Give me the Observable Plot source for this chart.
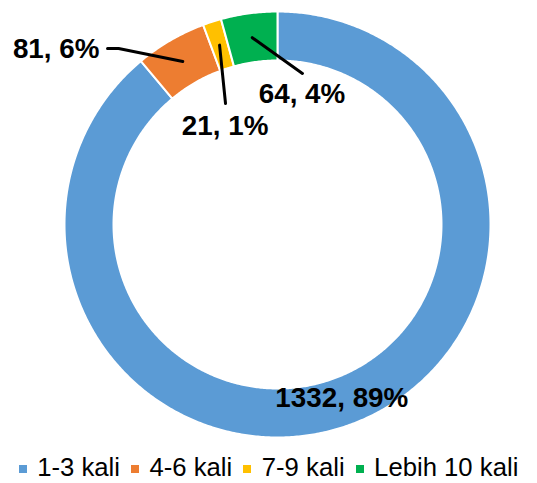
<!DOCTYPE html>
<html>
<head>
<meta charset="utf-8">
<script src="https://cdn.jsdelivr.net/npm/d3@7"></script>
<script src="https://cdn.jsdelivr.net/npm/@observablehq/plot@0.6"></script>
<style>
  html, body { margin: 0; padding: 0; background: #fff; }
  #chart svg { display: block; }
  .legend { display: flex; justify-content: center; align-items: center; margin-top: 7px;
    font-family: "Liberation Sans", Arial, sans-serif; font-size: 25.7px; line-height: 25px; color: #000; }
  .legend .item { display: flex; align-items: center; margin: 0 5.5px; }
  .legend .sw { width: 8px; height: 8px; margin-right: 10.5px; margin-top: 2px; }
</style>
</head>
<body>
<div id="chart"></div>
<script>
// ---- data ----
const categories = ["1-3 kali", "4-6 kali", "7-9 kali", "Lebih 10 kali"];
const counts = [1332, 81, 21, 64];
const percentLabels = ["89%", "6%", "1%", "4%"];
const colors = ["#5B9BD5", "#ED7D31", "#FFC000", "#00B050"];

// ---- layout (unit radius = outer ring radius) ----
const W = 537, H = 448, Rpx = 213, CX = 277, CY = 224;
const R = 1, r0 = 164 / 213;
// manual label placements (like Excel's dragged data labels), in unit coords; null = at centroid
const labelPlace = [null, {x: -0.836, y: 0.825, anchor: "end"}, {x: -0.246, y: 0.463, anchor: "middle"}, {x: 0.115, y: 0.614, anchor: "middle"}];
const leaderVia = [null, [{x: -0.746, y: 0.826}, {x: -0.798, y: 0.826}], [{x: -0.244, y: 0.568}], [{x: 0.117, y: 0.709}]];

const rows = categories.map((c, i) => ({cat: c, count: counts[i], label: `${counts[i]}, ${percentLabels[i]}`, i}));
const arcs = d3.pie().sort(null).value(d => d.count)(rows);

const ringPts = [];
const labels = [];
const leaders = [];
arcs.forEach(a => {
  const n = Math.max(2, Math.ceil((a.endAngle - a.startAngle) / (Math.PI / 360)));
  const outer = [], inner = [];
  for (let k = 0; k <= n; k++) {
    const t = a.startAngle + (a.endAngle - a.startAngle) * k / n;
    outer.push({cat: a.data.cat, x: R * Math.sin(t), y: R * Math.cos(t)});
    inner.push({cat: a.data.cat, x: r0 * Math.sin(t), y: r0 * Math.cos(t)});
  }
  inner.reverse();
  ringPts.push(...outer, ...inner, outer[0]);
  const mid = (a.startAngle + a.endAngle) / 2, rm = (R + r0) / 2;
  const c = {x: rm * Math.sin(mid), y: rm * Math.cos(mid)};
  const p = labelPlace[a.data.i];
  if (p) {
    labels.push({x: p.x, y: p.y, text: a.data.label, anchor: p.anchor, dy: 0});
    leaders.push({s: a.data.cat, ...c});
    leaderVia[a.data.i].forEach(v => leaders.push({s: a.data.cat, ...v}));
  } else {
    labels.push({x: c.x, y: c.y, text: a.data.label, anchor: "middle", dy: -4});
  }
});

const font = "Liberation Sans, Arial, sans-serif";
const textOpts = (anchor) => ({
  x: "x", y: "y", text: "text", textAnchor: anchor, fontSize: 27.8, fontWeight: "bold",
  fontFamily: font, fill: "black"
});

const chart = Plot.plot({
  width: W, height: H,
  marginTop: 0, marginRight: 0, marginBottom: 0, marginLeft: 0,
  x: {domain: [-CX / Rpx, (W - CX) / Rpx], axis: null},
  y: {domain: [-(H - CY) / Rpx, CY / Rpx], axis: null},
  color: {domain: categories, range: colors},
  style: {fontFamily: font, background: "white"},
  marks: [
    Plot.line(ringPts, {x: "x", y: "y", z: "cat", fill: "cat", stroke: "white", strokeWidth: 2, curve: "linear"}),
    Plot.line(leaders, {x: "x", y: "y", z: "s", stroke: "black", strokeWidth: 3}),
    Plot.text(labels.filter(d => d.anchor === "end"), textOpts("end")),
    Plot.text(labels.filter(d => d.anchor === "middle" && d.dy === 0), textOpts("middle")),
    Plot.text(labels.filter(d => d.dy !== 0), {...textOpts("middle"), dy: -4})
  ]
});
document.getElementById("chart").appendChild(chart);

// legend below the SVG
const legend = document.createElement("div");
legend.className = "legend";
categories.forEach((c, i) => {
  const item = document.createElement("div");
  item.className = "item";
  const sw = document.createElement("span");
  sw.className = "sw";
  sw.style.background = colors[i];
  const t = document.createElement("span");
  t.textContent = c;
  item.appendChild(sw);
  item.appendChild(t);
  legend.appendChild(item);
});
document.getElementById("chart").appendChild(legend);
</script>
</body>
</html>
